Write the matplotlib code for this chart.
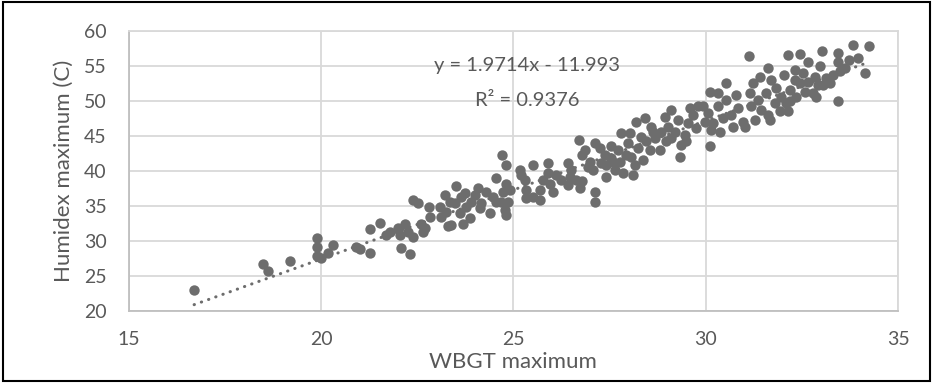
"""
WBGT maximum vs Humidex maximum scatter with linear trendline.
"""

import numpy as np
import matplotlib
matplotlib.use("Agg")
import matplotlib.pyplot as plt
from matplotlib.patches import Rectangle

# data, grouped by WBGT range
wbgt_low = [16.70, 18.50, 18.61, 19.19, 19.90, 19.90, 19.90, 20.00, 20.19, 20.30,
            20.90, 21.01, 21.28, 21.28]
humidex_low = [23.0, 26.7, 25.7, 27.1, 30.4, 29.2, 27.8, 27.6, 28.3, 29.5,
               29.2, 28.8, 28.3, 31.7]

wbgt_22 = [21.53, 21.70, 21.79, 22.00, 22.05, 22.09, 22.18, 22.31, 22.26, 22.39,
           22.39, 22.52, 22.61, 22.65, 22.70, 22.81, 22.83, 23.09, 23.13, 23.22,
           23.26, 23.30, 23.39, 23.35, 23.48, 23.50, 23.61, 23.65, 23.74, 23.69,
           23.78, 23.86, 23.91, 24.00, 24.08, 24.12, 24.17, 24.30, 24.38, 24.47,
           24.56, 24.56]
humidex_22 = [32.6, 30.9, 31.3, 31.8, 30.9, 29.0, 32.5, 28.2, 31.3, 30.6,
              35.9, 35.4, 32.5, 31.3, 31.8, 34.9, 33.5, 34.9, 33.5, 36.6,
              34.2, 32.1, 32.3, 35.6, 35.4, 37.8, 34.0, 36.3, 36.8, 32.5,
              34.9, 33.3, 35.6, 36.6, 37.5, 34.7, 35.4, 37.0, 34.0, 36.3,
              39.0, 35.6]

wbgt_25 = [24.71, 24.80, 24.82, 24.90, 24.73, 24.69, 24.86, 24.77, 24.80, 25.16,
           25.21, 25.29, 25.34, 25.34, 25.51, 25.51, 25.68, 25.68, 25.77, 25.90,
           25.90, 25.94, 26.03, 26.12, 26.25, 26.42, 26.46, 26.51, 26.64, 26.42,
           26.72, 26.79, 26.70, 26.79, 26.85, 26.94, 26.98, 27.07, 27.11, 27.11,
           27.11]
humidex_25 = [42.3, 40.9, 38.2, 37.3, 37.0, 35.6, 35.5, 34.4, 33.7, 40.1,
              39.4, 38.7, 37.3, 36.1, 40.9, 36.3, 37.3, 35.9, 38.7, 41.1,
              39.7, 38.2, 37.0, 39.4, 38.7, 41.1, 39.2, 40.1, 38.7, 38.0,
              37.5, 38.5, 44.4, 42.3, 43.0, 40.6, 41.3, 40.1, 44.0, 37.0,
              35.5]

wbgt_28 = [27.24, 27.37, 27.28, 27.42, 27.42, 27.55, 27.55, 27.63, 27.72, 27.81,
           27.76, 27.94, 27.85, 27.98, 28.03, 28.07, 28.11, 28.15, 28.20, 28.24,
           28.33, 28.37, 28.41, 28.45, 28.54, 28.58, 28.63, 28.67, 28.80, 28.84,
           28.93, 28.97, 29.02, 29.10, 29.10, 29.19, 29.28, 29.32, 29.36, 29.45,
           29.49, 29.54, 29.58, 29.66, 29.75, 29.79, 27.59]
humidex_28 = [43.2, 42.3, 41.1, 40.9, 39.2, 43.5, 41.8, 40.1, 43.0, 45.4,
              41.3, 42.3, 39.7, 44.0, 45.4, 42.0, 39.4, 40.9, 47.0, 43.2,
              44.9, 41.6, 47.5, 44.2, 43.0, 46.3, 45.6, 44.7, 43.0, 45.6,
              47.7, 44.2, 46.3, 48.7, 44.7, 45.6, 47.3, 42.0, 43.7, 45.1,
              44.2, 46.8, 48.9, 48.0, 46.1, 49.2, 41.3]

wbgt_31 = [30.12, 30.10, 30.31, 30.53, 29.93, 30.06, 29.97, 30.19, 30.14, 30.36,
           30.31, 30.44, 30.53, 30.66, 30.70, 30.79, 30.83, 30.97, 31.01, 31.14,
           31.18, 31.22, 31.27, 31.35, 31.40, 31.44, 31.61, 31.57, 31.61, 31.66,
           31.70, 31.79, 31.83, 31.92, 31.96, 32.04, 32.09, 32.13, 32.18, 32.31,
           32.35, 32.44, 32.52, 32.57, 32.66, 31.12]
humidex_31 = [43.5, 51.3, 51.1, 52.5, 49.2, 48.2, 47.0, 46.8, 45.9, 45.6,
              49.2, 47.5, 50.1, 48.0, 46.3, 50.8, 48.9, 47.0, 46.3, 51.1,
              49.2, 52.5, 47.3, 50.1, 53.4, 48.7, 54.7, 51.1, 48.0, 47.3,
              53.0, 49.7, 51.8, 48.5, 50.6, 53.7, 49.7, 48.5, 51.6, 54.4,
              50.6, 52.5, 53.9, 51.3, 52.7, 56.4]

wbgt_high = [32.44, 33.03, 33.44, 33.83, 34.24, 33.72, 33.95, 34.14, 33.44, 33.44,
             32.66, 32.96, 32.13, 32.31, 32.83, 32.91, 33.13, 33.30, 33.48, 33.61,
             32.78, 32.87, 32.18, 33.04, 33.22]
humidex_high = [56.7, 57.1, 56.8, 57.9, 57.8, 55.8, 56.1, 53.9, 55.6, 49.9,
                55.6, 54.9, 56.5, 53.0, 53.4, 52.3, 53.2, 53.7, 54.2, 54.7,
                51.1, 50.6, 49.9, 52.3, 52.5]

# trendline as printed on the chart
slope = 1.9714
intercept = -11.993
r_squared = 0.9376

x_ticks = [15, 20, 25, 30, 35]
y_ticks = [20, 25, 30, 35, 40, 45, 50, 55, 60]

wbgt = np.array(wbgt_low + wbgt_22 + wbgt_25 + wbgt_28 + wbgt_31 + wbgt_high)
humidex = np.array(humidex_low + humidex_22 + humidex_25 + humidex_28 + humidex_31 + humidex_high)

plt.rcParams['font.family'] = ['Lato', 'DejaVu Sans']

point_color = '#6d6d6d'
text_color = '#595959'

fig = plt.figure(figsize=(9.33, 3.83), dpi=100)
ax = fig.add_axes([0.138, 0.1875, 0.8245, 0.7325])

ax.scatter(wbgt, humidex, s=56, color=point_color, linewidths=0, zorder=3)

trend_x = np.array([wbgt.min(), wbgt.max()])
ax.plot(trend_x, slope * trend_x + intercept, color=point_color, lw=2.2,
        linestyle=(0, (0.1, 2.4)), dash_capstyle='round', zorder=4)

ax.text(25.35, 55.0, f"y = {slope}x - {abs(intercept)}", fontsize=14.5,
        color=text_color, ha='center', va='center', zorder=5)
ax.text(25.35, 50.1, f"R² = {r_squared}", fontsize=14.5,
        color=text_color, ha='center', va='center', zorder=5)

ax.set_xlim(15, 35)
ax.set_ylim(20, 60)
ax.set_xticks(x_ticks)
ax.set_yticks(y_ticks)
ax.tick_params(length=0, labelsize=14, labelcolor=text_color)
ax.tick_params(axis='x', pad=14)
ax.tick_params(axis='y', pad=16)
ax.grid(True, color='#d9d9d9', lw=1.3)
ax.set_axisbelow(True)
for side in ['top', 'right']:
    ax.spines[side].set_color('#d9d9d9')
    ax.spines[side].set_linewidth(1.3)
for side in ['left', 'bottom']:
    ax.spines[side].set_color('#bfbfbf')
    ax.spines[side].set_linewidth(1.3)

ax.set_xlabel('WBGT maximum', fontsize=16, color=text_color, labelpad=3)
ax.set_ylabel('Humidex maximum (C)', fontsize=16, color=text_color, labelpad=7)

# outer chart border
fig.patches.append(Rectangle((0.003, 0.004), 0.994, 0.99, transform=fig.transFigure,
                             fill=False, edgecolor='black', lw=1.5))

fig.savefig('out.png', dpi=100)
